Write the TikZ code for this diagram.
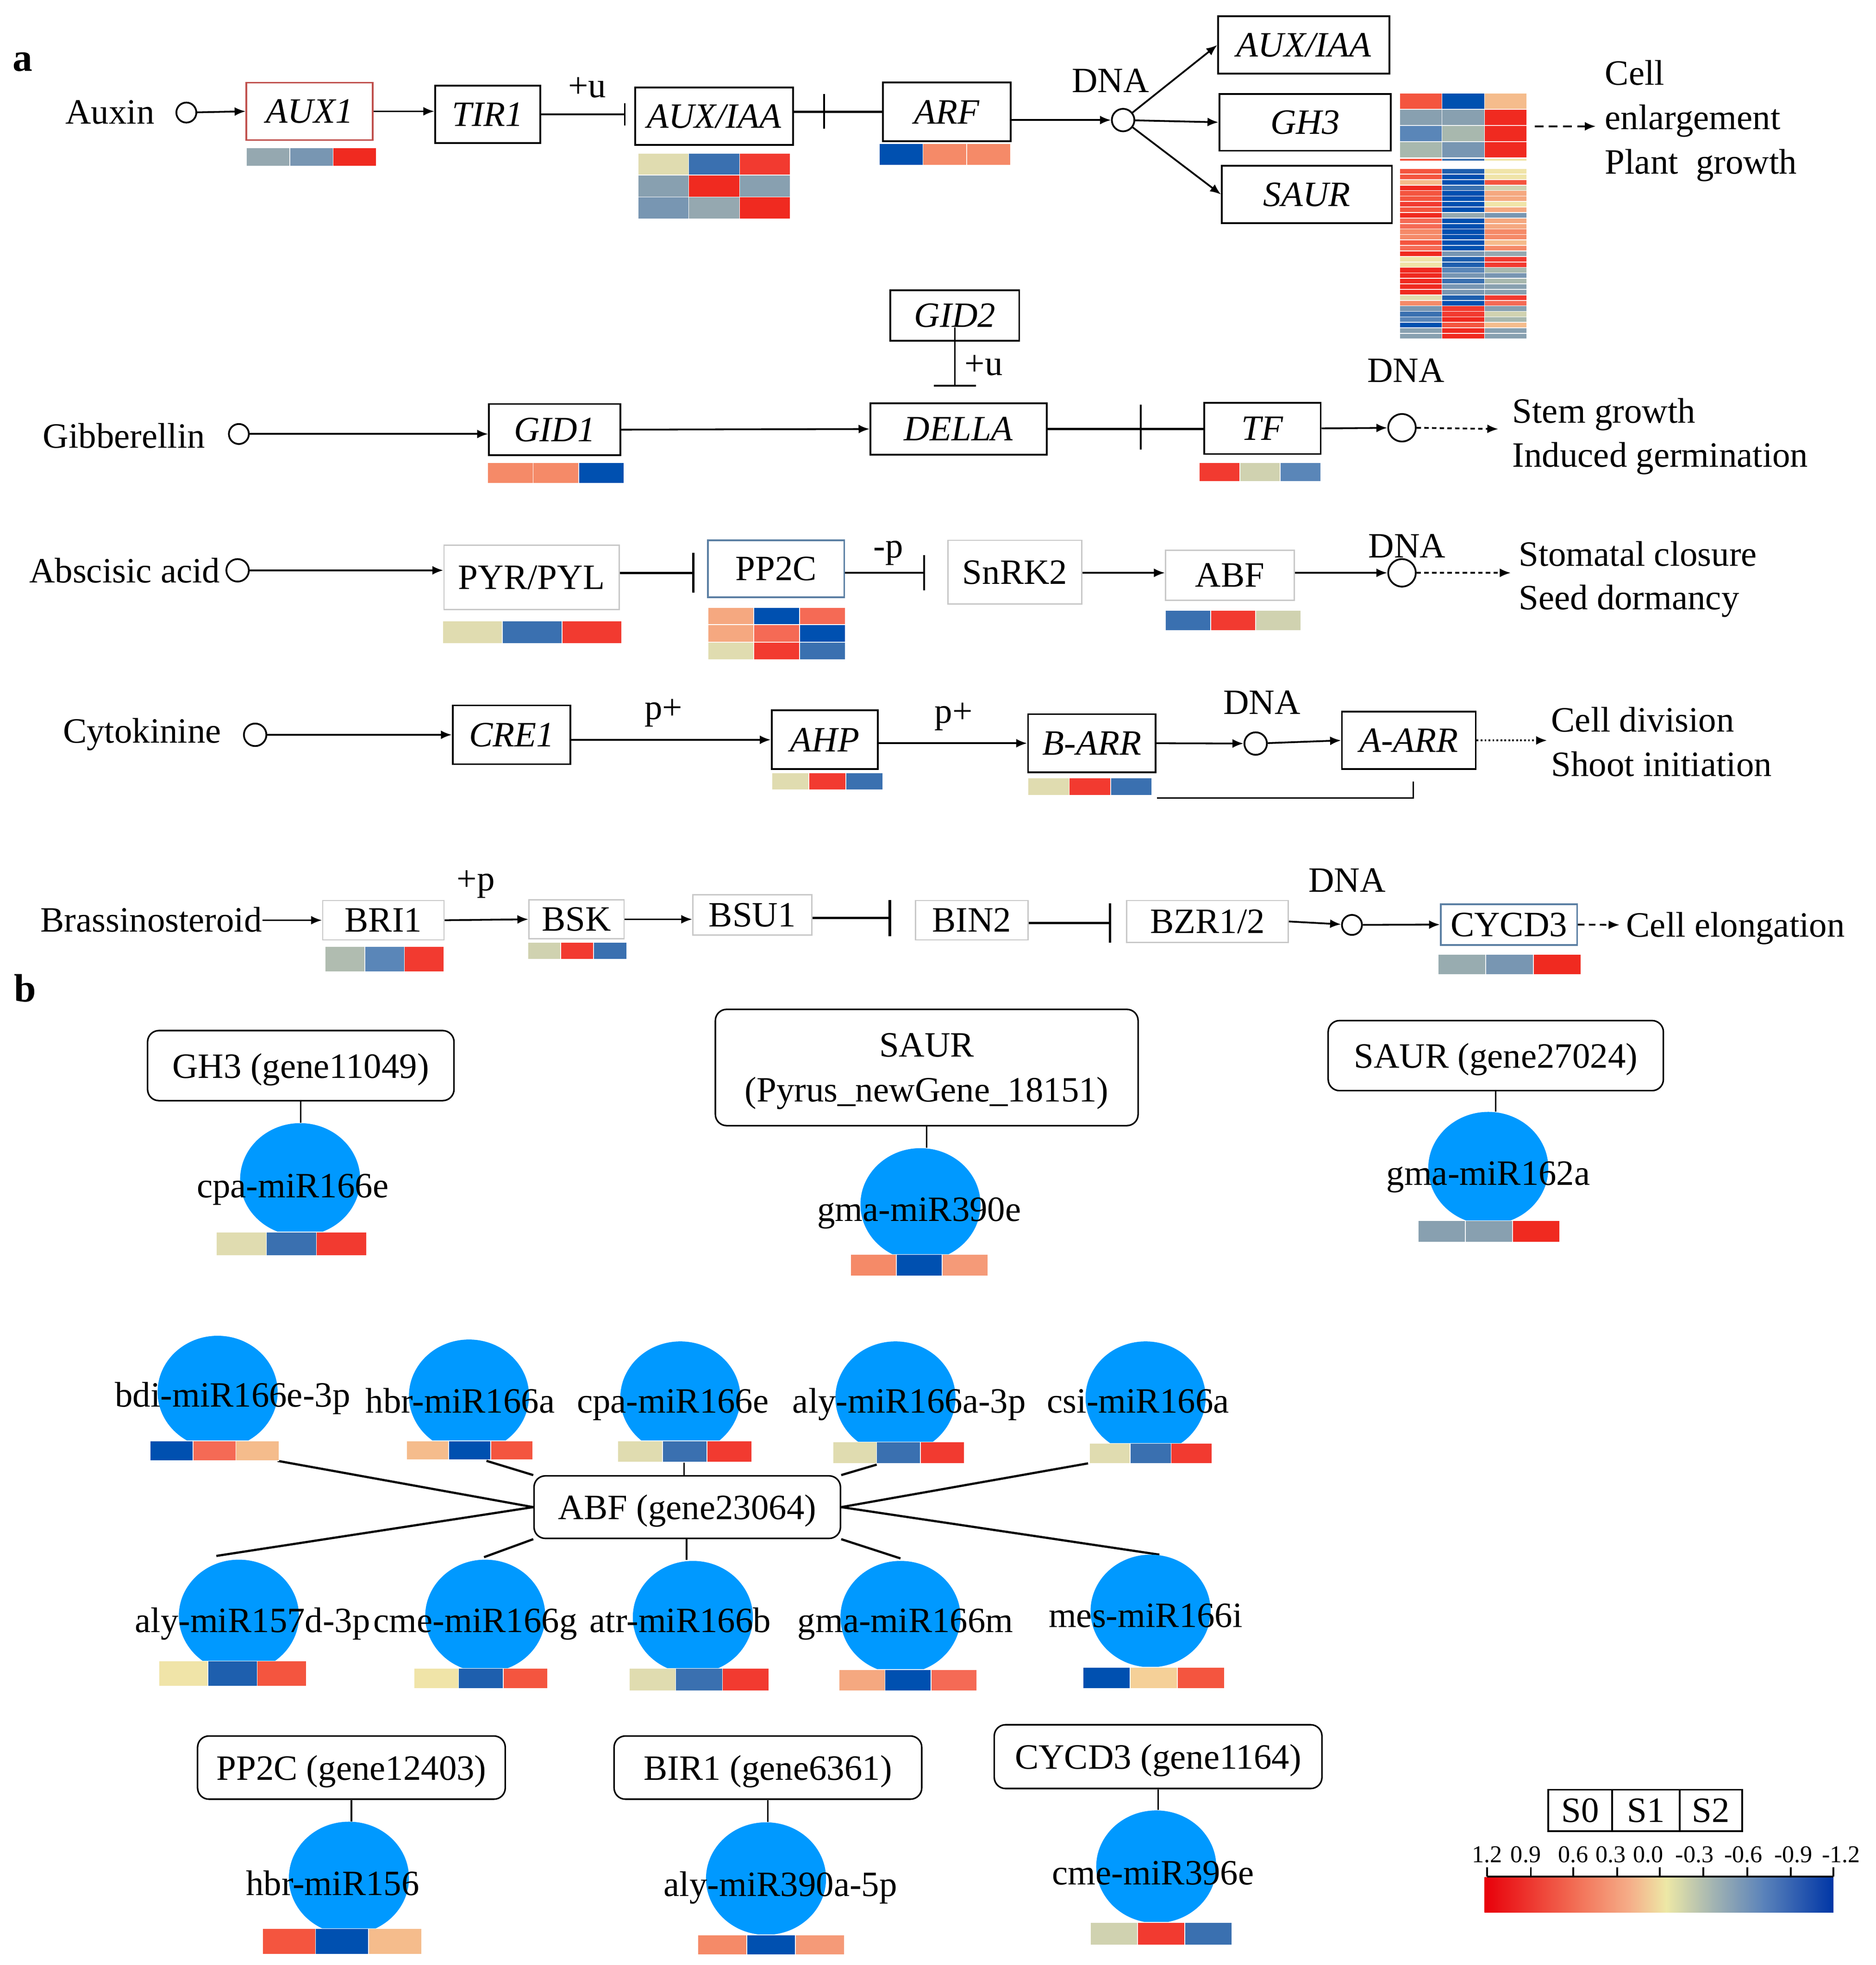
\documentclass[tikz,border=0pt]{standalone}
\usepackage{fontspec}
\setmainfont{Liberation Serif}
\usetikzlibrary{arrows.meta,shapes.geometric,calc}
\definecolor{R1}{HTML}{F02A20}
\definecolor{R2}{HTML}{F23A30}
\definecolor{R3}{HTML}{F4553F}
\definecolor{R4}{HTML}{F56A55}
\definecolor{R5}{HTML}{F58A68}
\definecolor{R6}{HTML}{F5A880}
\definecolor{R7}{HTML}{F5BC8C}
\definecolor{R9}{HTML}{F59A78}
\definecolor{Y1}{HTML}{E0DCB0}
\definecolor{Y2}{HTML}{F0E4A8}
\definecolor{Y3}{HTML}{F5D098}
\definecolor{G1}{HTML}{D0D2B0}
\definecolor{G2}{HTML}{A8B8AE}
\definecolor{G3}{HTML}{95A8B0}
\definecolor{G4}{HTML}{88A0B0}
\definecolor{G5}{HTML}{7896B2}
\definecolor{Gb}{HTML}{B0BCB0}
\definecolor{Gc}{HTML}{98ACB0}
\definecolor{B1}{HTML}{5A86B8}
\definecolor{B2}{HTML}{3A70B0}
\definecolor{B3}{HTML}{1E5FAE}
\definecolor{B4}{HTML}{0050B0}
\definecolor{mirblue}{HTML}{0099FF}
\definecolor{boxgray}{HTML}{C8C8C8}
\definecolor{boxblue}{HTML}{5B7FA3}
\definecolor{boxred}{HTML}{C0504D}
\definecolor{lg1}{HTML}{E8000A}
\definecolor{lg2}{HTML}{F26A52}
\definecolor{lg3}{HTML}{F5B08A}
\definecolor{lg4}{HTML}{EDE8A6}
\definecolor{lg5}{HTML}{A5B6B2}
\definecolor{lg6}{HTML}{5A82BA}
\definecolor{lg7}{HTML}{0036A6}
% heatmap: x1, y1, x2, row height, list of c1/c2/c3
\newcommand{\hmrows}[5]{%
  \pgfmathsetmacro{\hxa}{#1+((#3)-(#1))/3}%
  \pgfmathsetmacro{\hxb}{#1+2*((#3)-(#1))/3}%
  \foreach \hca/\hcb/\hcc [count=\hk from 0] in {#5}{%
    \pgfmathsetmacro{\hya}{#2+\hk*(#4)}%
    \pgfmathsetmacro{\hyb}{#2+(\hk+1)*(#4)}%
    \filldraw[hmcell, fill=\hca] (#1,\hya) rectangle (\hxa,\hyb);%
    \filldraw[hmcell, fill=\hcb] (\hxa,\hya) rectangle (\hxb,\hyb);%
    \filldraw[hmcell, fill=\hcc] (\hxb,\hya) rectangle (#3,\hyb);%
  }%
}
% box: [style] name x1 y1 x2 y2 text
\newcommand{\gb}[7][gbox]{\node[#1, minimum width={(#5-#3)*0.02cm}, minimum height={(#6-#4)*0.02cm}] (#2) at ({(#3+#5)/2},{(#4+#6)/2}) {#7};}
\begin{document}
\begin{tikzpicture}[x=0.02cm,y=-0.02cm,
  every node/.style={font=\fontsize{16.2pt}{19pt}\selectfont, inner sep=0pt},
  gbox/.style={rectangle, draw=black, line width=0.8pt, text depth=0pt},
  lbox/.style={rectangle, draw=boxgray, line width=0.6pt, text depth=0pt},
  bbox/.style={rectangle, draw=boxblue, line width=0.7pt, text depth=0pt},
  rbox/.style={rectangle, draw=boxred, line width=0.7pt, text depth=0pt},
  tbox/.style={rectangle, draw=black, line width=0.7pt, rounded corners=0.18cm, align=center, text depth=0pt},
  dnacirc/.style={circle, draw=black, line width=0.8pt, fill=white},
  mir/.style={ellipse, fill=mirblue, minimum width=96*0.02cm, minimum height=90*0.02cm},
  lab/.style={anchor=base west},
  labc/.style={anchor=base},
  hmcell/.style={draw=white, line width=0.35pt},
  arr/.style={-{Latex[length=5pt,width=4pt]}, line width=0.8pt},
  darr/.style={arr, dash pattern=on 4pt off 2.5pt},
  darrb/.style={arr, dash pattern=on 2pt off 1.5pt},
  dotarr/.style={arr, dash pattern=on 0.8pt off 1pt},
  darrc/.style={arr, dash pattern=on 3pt off 2pt},
  inh/.style={line width=0.8pt},
  conn/.style={line width=0.7pt},
  abfl/.style={line width=1pt},
  legnum/.style={anchor=base, font=\fontsize{11pt}{13pt}\selectfont}
]
\fill[white] (0,0) rectangle (1500,1571.1);
\useasboundingbox (0,0) rectangle (1500,1571.1);

%================ part a ================
\node[lab, font=\fontsize{18pt}{20pt}\selectfont\bfseries] (la) at (10,57) {a};

% ---- Auxin row
\node[lab] (auxin) at (52,99) {Auxin};
\node[dnacirc, minimum size=16*0.02cm] (auxc) at (149,90) {};
\gb[rbox]{aux1}{197}{66}{298}{112}{\textit{AUX1}}
\gb{tir1}{348}{68.5}{432}{114.5}{\textit{TIR1}}
\gb{auxiaa}{508}{70}{634}{116}{\textit{AUX/IAA}}
\gb{arf}{706}{66}{808}{113}{\textit{ARF}}
\node[dnacirc, minimum size=18*0.02cm] (dna1) at (898,96) {};
\node[labc] (dnat1) at (888,74) {DNA};
\gb{auxiaa2}{974}{13}{1111}{59}{\textit{AUX/IAA}}
\gb{gh3}{975}{75}{1112}{120.5}{\textit{GH3}}
\gb{saur}{977}{132.5}{1113}{178.5}{\textit{SAUR}}
\node[lab] (ce1t) at (1283,68) {Cell};
\node[lab] (ce2t) at (1283,103.5) {enlargement};
\node[lab] (ce3t) at (1283,139) {Plant\ \ growth};
\node[lab] (plu1) at (454,78) {+u};

\hmrows{197}{118}{301}{15}{G3/G5/R1}
\hmrows{510}{122.5}{632}{17.5}{Y1/B2/R2, G4/R1/G4, G5/G3/R1}
\hmrows{703}{115}{808}{17}{B4/R5/R5}
\hmrows{1119}{74.5}{1221}{12.9}{R3/B4/R7, G4/G4/R1, B1/G2/R1, G2/G5/R1}
\hmrows{1119}{126.8}{1221}{1.8}{R3/B2/Y2}
\hmrows{1119}{134.8}{1221}{4.39}{R3/B3/Y2, R3/B4/Y2, R7/B4/R3, R1/B2/G1, R3/B4/R6, R3/B4/R6, R2/B4/Y2, R3/B4/R6, R1/G3/G5, R4/B4/R6, R4/B4/R6, R5/B4/R5, R5/B4/R5, R3/B4/R7, R4/B4/R5, R1/G5/G3, Y2/B3/R2, Y2/B3/R2, R1/B1/G2, R1/G5/G5, R1/B2/G2, R1/G5/G4, R1/G5/G4, Y1/B3/R2, R5/B4/R4, G5/R2/G4, B2/R2/G1, B1/R1/G2, B4/R3/R7, G4/R1/G4, G4/R1/G4}

\draw[arr] (auxc) -- (aux1.west);
\draw[arr] (aux1.east) -- (aux1.east -| tir1.west);
\draw[inh, -{Bar[width=10pt]}, shorten >=4pt] (tir1.east) -- (tir1.east -| auxiaa.west);
\draw[inh, line width=1.1pt] (auxiaa.east |- arf.west) -- (arf.west);
\coordinate (arfb1) at (659,75);
\coordinate (arfb2) at (659,103);
\draw[inh] (arfb1) -- (arfb2);
\draw[arr] (arf.east |- dna1) -- (dna1);
\draw[arr] (dna1) -- (auxiaa2.west);
\draw[arr] (dna1) -- (gh3.west);
\draw[arr] (dna1) -- (saur.west);
\coordinate (cea) at (1227,101);
\coordinate (ceb) at (1276,101);
\draw[darr] (cea) -- (ceb);

% ---- Gibberellin row
\node[lab] (gib) at (34,358) {Gibberellin};
\node[dnacirc, minimum size=16*0.02cm] (gibc) at (191,347) {};
\gb{gid2}{712}{232}{815}{272.5}{\textit{GID2}}
\gb{gid1}{391}{323}{496}{364}{\textit{GID1}}
\gb{della}{696}{322.5}{837}{363.5}{\textit{DELLA}}
\gb{tf}{963}{322}{1056}{363}{\textit{TF}}
\node[dnacirc, minimum size=22*0.02cm] (dna2) at (1121,342) {};
\node[labc] (dnat2) at (1124,305.5) {DNA};
\node[lab] (plu2) at (771,300) {+u};
\node[lab] (sg1t) at (1209,338) {Stem growth};
\node[lab] (sg2t) at (1209,373.5) {Induced germination};
\hmrows{390}{369.8}{499}{16.5}{R5/R5/B4}
\hmrows{959}{369.8}{1056}{15}{R2/G1/B1}

\draw[arr] (gibc) -- (gibc -| gid1.west);
\draw[arr] (gid1.east) -- (della.west);
\draw[inh, -{Bar[width=19pt]}, shorten <=5.4pt, shorten >=7.2pt] (gid2.center) -- (gid2.center |- della.north);
\draw[inh, line width=1.1pt] (della.east) -- (della.east -| tf.west);
\coordinate (db1) at (912,323.5);
\coordinate (db2) at (912,359.5);
\draw[inh] (db1) -- (db2);
\draw[arr] (tf.east) -- (dna2);
\coordinate (sg) at (1198,343);
\draw[darrb] (dna2.east) -- (sg);

% ---- Abscisic acid row
\node[lab] (aba) at (23,466) {Abscisic acid};
\node[dnacirc, minimum size=18*0.02cm] (abac) at (190,456) {};
\gb[lbox]{pyr}{355}{436}{495}{487.5}{PYR/PYL}
\gb[bbox]{pp2c}{566}{432}{675}{477.5}{PP2C}
\gb[lbox]{snrk2}{758}{432}{865}{483}{SnRK2}
\gb[lbox]{abf}{932}{440}{1035}{480}{ABF}
\node[dnacirc, minimum size=22*0.02cm] (dna3) at (1121,458) {};
\node[labc] (dnat3) at (1125,446) {DNA};
\node[lab] (minp) at (698,446) {-p};
\node[lab] (sc1t) at (1214,452.5) {Stomatal closure};
\node[lab] (sc2t) at (1214,487.5) {Seed dormancy};
\hmrows{354}{496.4}{497}{18.1}{Y1/B2/R2}
\hmrows{566}{485.6}{676}{13.9}{R6/B4/R4, R6/R4/B4, Y1/R2/B2}
\hmrows{932}{488}{1040}{16}{B2/R2/G1}

\coordinate (ya) at (0,458);
\draw[arr] (abac) -- (abac -| pyr.west);
\draw[inh, line width=1.1pt, -{Bar[width=18pt]}, shorten >=5.7pt] (pyr.east |- ya) -- (pp2c.west |- ya);
\draw[inh, -{Bar[width=16pt]}, shorten >=10.2pt] (pp2c.east |- ya) -- (snrk2.west |- ya);
\draw[arr] (snrk2.east |- ya) -- (abf.west |- ya);
\draw[arr] (abf.east |- dna3) -- (dna3);
\coordinate (sd) at (1208,458);
\draw[darrb] (dna3.east) -- (sd);

% ---- Cytokinine row
\node[lab] (cyt) at (50,594) {Cytokinine};
\node[dnacirc, minimum size=18*0.02cm] (cytc) at (204,587.5) {};
\gb{cre1}{362}{564}{456}{611}{\textit{CRE1}}
\gb{ahp}{617}{568}{702}{615}{\textit{AHP}}
\gb{barr}{822}{571}{924}{617.5}{\textit{B-ARR}}
\gb{aarr}{1073}{569}{1180}{615}{\textit{A-ARR}}
\node[dnacirc, minimum size=18*0.02cm] (dna4) at (1004,594.5) {};
\node[labc] (dnat4) at (1009,571) {DNA};
\node[lab] (pp1) at (515,575) {p+};
\node[lab] (pp2) at (747,578) {p+};
\node[lab] (cd1t) at (1240,585) {Cell division};
\node[lab] (cd2t) at (1240,620.5) {Shoot initiation};
\hmrows{617}{618}{706}{13.3}{Y1/R2/B2}
\hmrows{822}{622}{921}{14}{Y1/R2/B2}

\draw[arr] (cytc) -- (cytc -| cre1.west);
\draw[arr] (cre1.east |- ahp.west) -- (ahp.west);
\draw[arr] (ahp.east |- barr.west) -- (barr.west);
\draw[arr] (barr.east) -- (dna4);
\draw[arr] (dna4) -- (aarr.west);
\coordinate (cd) at (1237,592);
\draw[dotarr] (aarr.east) -- (cd);
\coordinate (fb1) at (925,638);
\coordinate (fb2) at (1130,625);
\draw[conn] (fb1) -- (fb1 -| fb2) -- (fb2);

% ---- Brassinosteroid row
\node[lab] (brass) at (32,745) {Brassinosteroid};
\gb[lbox]{bri1}{258}{720}{355}{751.5}{BRI1}
\gb[lbox]{bsk}{423}{719.5}{499}{750.5}{BSK}
\gb[lbox]{bsu1}{554}{715.5}{649}{747.5}{BSU1}
\gb[lbox]{bin2}{732}{720}{822}{751.5}{BIN2}
\gb[lbox]{bzr}{901}{720}{1030}{753.5}{BZR1/2}
\gb[bbox]{cycd3}{1152}{723}{1261}{755.5}{CYCD3}
\node[dnacirc, minimum size=16*0.02cm] (dna5) at (1081,739.5) {};
\node[labc] (dnat5) at (1077,713) {DNA};
\node[lab] (plp) at (365,712) {+p};
\node[lab] (celt) at (1300,749) {Cell elongation};
\hmrows{260}{756.8}{355}{20}{Gb/B1/R2}
\hmrows{422}{753.3}{501}{13.8}{G1/R2/B2}
\hmrows{1150}{763}{1264}{16}{Gc/G5/R1}

\draw[arr] (brass.east |- bri1.west) -- (bri1.west);
\draw[arr] (bri1.east) -- (bsk.west);
\draw[arr] (bsk.east) -- (bsk.east -| bsu1.west);
\coordinate (yb1) at (0,734);
\coordinate (yb2) at (0,738);
\draw[inh, line width=1.1pt, -{Bar[width=16.5pt]}, shorten >=10.8pt] (bsu1.east |- yb1) -- (bin2.west |- yb1);
\draw[inh, line width=1.1pt, -{Bar[width=18pt]}, shorten >=6.8pt] (bin2.east |- yb2) -- (bzr.west |- yb2);
\draw[arr] (bzr.east) -- (dna5);
\draw[arr] (dna5) -- (cycd3.west);
\coordinate (cel) at (1295,739.5);
\draw[darrc] (cycd3.east) -- (cel);

%================ part b ================
\node[lab, font=\fontsize{18pt}{20pt}\selectfont\bfseries] (lb) at (11,801) {b};

\gb[tbox]{gh3b}{118}{824}{363}{880}{GH3 (gene11049)}
\gb[{tbox,font=\fontsize{16.2pt}{20.5pt}\selectfont}]{saurb}{572}{807}{910}{900}{SAUR\\(Pyrus\_newGene\_18151)}
\gb[tbox]{saur2b}{1062}{816}{1330}{872}{SAUR (gene27024)}
\gb[tbox]{abfb}{427}{1180}{672}{1230}{ABF (gene23064)}
\gb[tbox]{pp2cb}{158}{1388}{404}{1438.5}{PP2C (gene12403)}
\gb[tbox]{bir1b}{491}{1388}{737}{1438.5}{BIR1 (gene6361)}
\gb[tbox]{cycd3b}{795}{1379}{1057}{1430}{CYCD3 (gene1164)}

% connectors (under circles)
\coordinate (e1) at (222,1168);
\coordinate (e2) at (389,1168);
\coordinate (e3) at (547,1168);
\coordinate (e4) at (701,1171);
\coordinate (e5) at (870,1170);
\coordinate (e6) at (173,1244);
\coordinate (e7) at (387,1245);
\coordinate (e8) at (549,1247);
\coordinate (e9) at (720,1246);
\coordinate (e10) at (927,1243);
\draw[abfl] (e1) -- (abfb.west);
\draw[abfl] (e2) -- (abfb.north west);
\draw[conn] (e3) -- (e3 |- abfb.north);
\draw[abfl] (e4) -- (abfb.north east);
\draw[abfl] (e5) -- (abfb.east);
\draw[abfl] (e6) -- (abfb.west);
\draw[abfl] (e7) -- (abfb.south west);
\draw[conn] (e8) -- (e8 |- abfb.south);
\draw[abfl] (e9) -- (abfb.south east);
\draw[abfl] (e10) -- (abfb.east);

% miRNA circles
\node[mir] (m1) at (240,943) {};
\node[mir] (m2) at (736,963) {};
\node[mir] (m3) at (1190,934) {};
\node[mir] (m4) at (174,1113) {};
\node[mir] (m5) at (375,1116) {};
\node[mir] (m6) at (544,1117.5) {};
\node[mir] (m7) at (716,1117.5) {};
\node[mir] (m8) at (916,1117.5) {};
\node[mir] (m9) at (191,1292) {};
\node[mir] (m10) at (388,1292) {};
\node[mir] (m11) at (554,1293) {};
\node[mir] (m12) at (720,1293) {};
\node[mir] (m13) at (920,1288) {};
\node[mir] (m14) at (279,1501.5) {};
\node[mir] (m15) at (612.5,1502) {};
\node[mir] (m16) at (924.5,1492.5) {};

\draw[conn] (gh3b.south) -- (gh3b.south |- m1.north);
\draw[conn] (saurb.south) -- (saurb.south |- m2.north);
\draw[conn] (saur2b.south) -- (saur2b.south |- m3.north);
\draw[conn] (pp2cb.south) -- (pp2cb.south |- m14.north);
\draw[conn] (bir1b.south) -- (bir1b.south |- m15.north);
\draw[conn] (cycd3b.south) -- (cycd3b.south |- m16.north);

% heatmaps of miRNAs
\hmrows{173}{985}{293}{19}{Y1/B2/R2}
\hmrows{680}{1003}{790}{17}{R5/B4/R9}
\hmrows{1134}{976}{1247}{17}{G4/G4/R1}
\hmrows{120}{1152}{223}{16}{B4/R4/R7}
\hmrows{325}{1152}{426}{15}{R7/B4/R3}
\hmrows{494}{1152}{601}{17}{Y1/B2/R2}
\hmrows{666}{1153}{771}{17}{Y1/B2/R2}
\hmrows{871}{1154}{969}{16}{Y1/B2/R2}
\hmrows{127}{1328}{245}{20}{Y2/B3/R3}
\hmrows{331}{1334}{438}{16}{Y2/B3/R3}
\hmrows{503}{1334}{615}{18}{Y1/B2/R2}
\hmrows{671}{1335}{781}{17}{R6/B4/R4}
\hmrows{866}{1333}{979}{17}{B4/Y3/R3}
\hmrows{210}{1542}{337}{20.4}{R3/B4/R7}
\hmrows{558}{1547}{675}{16}{R5/B4/R9}
\hmrows{872}{1537}{985}{18}{G1/R2/B2}

% miRNA names
\node[labc] (t1) at (234,957.5) {cpa-miR166e};
\node[labc] (t2) at (735,976.5) {gma-miR390e};
\node[labc] (t3) at (1190,947.5) {gma-miR162a};
\node[labc] (t4) at (186,1125) {bdi-miR166e-3p};
\node[labc] (t5) at (368,1129.5) {hbr-miR166a};
\node[labc] (t6) at (538,1129.5) {cpa-miR166e};
\node[labc] (t7) at (727,1129.5) {aly-miR166a-3p};
\node[labc] (t8) at (910,1129.5) {csi-miR166a};
\node[labc] (t9) at (202,1305) {aly-miR157d-3p};
\node[labc] (t10) at (380,1305) {cme-miR166g};
\node[labc] (t11) at (544,1305) {atr-miR166b};
\node[labc] (t12) at (724,1305) {gma-miR166m};
\node[labc] (t13) at (916,1301) {mes-miR166i};
\node[labc] (t14) at (266,1515.5) {hbr-miR156};
\node[labc] (t15) at (624,1516) {aly-miR390a-5p};
\node[labc] (t16) at (922,1507) {cme-miR396e};

%================ legend ================
\gb{s0}{1238}{1431}{1289}{1464}{S0}
\gb{s1}{1289}{1431}{1343}{1464}{S1}
\gb{s2}{1343}{1431}{1393}{1464}{S2}
\node[legnum] (n1) at (1189,1489) {1.2};
\node[legnum] (n2) at (1220,1489) {0.9};
\node[legnum] (n3) at (1258,1489) {0.6};
\node[legnum] (n4) at (1288,1489) {0.3};
\node[legnum] (n5) at (1318,1489) {0.0};
\node[legnum] (n6) at (1355,1489) {-0.3};
\node[legnum] (n7) at (1394,1489) {-0.6};
\node[legnum] (n8) at (1434,1489) {-0.9};
\node[legnum] (n9) at (1472,1489) {-1.2};
\shade[left color=lg1, right color=lg2] (1187,1501) rectangle (1257.3,1529);
\shade[left color=lg2, right color=lg3] (1257,1501) rectangle (1304.5,1529);
\shade[left color=lg3, right color=lg4] (1304.2,1501) rectangle (1332.4,1529);
\shade[left color=lg4, right color=lg5] (1332.1,1501) rectangle (1368.7,1529);
\shade[left color=lg5, right color=lg6] (1368.4,1501) rectangle (1410.5,1529);
\shade[left color=lg6, right color=lg7] (1410.2,1501) rectangle (1466,1529);
\draw[line width=0.8pt] (1189,1500.5) -- (1466,1500.5);
\foreach \tx in {1189,1224,1258,1293,1327,1362,1397,1432,1466}
  \draw[line width=0.8pt] (\tx,1500.5) -- (\tx,1493);
\end{tikzpicture}
\end{document}
